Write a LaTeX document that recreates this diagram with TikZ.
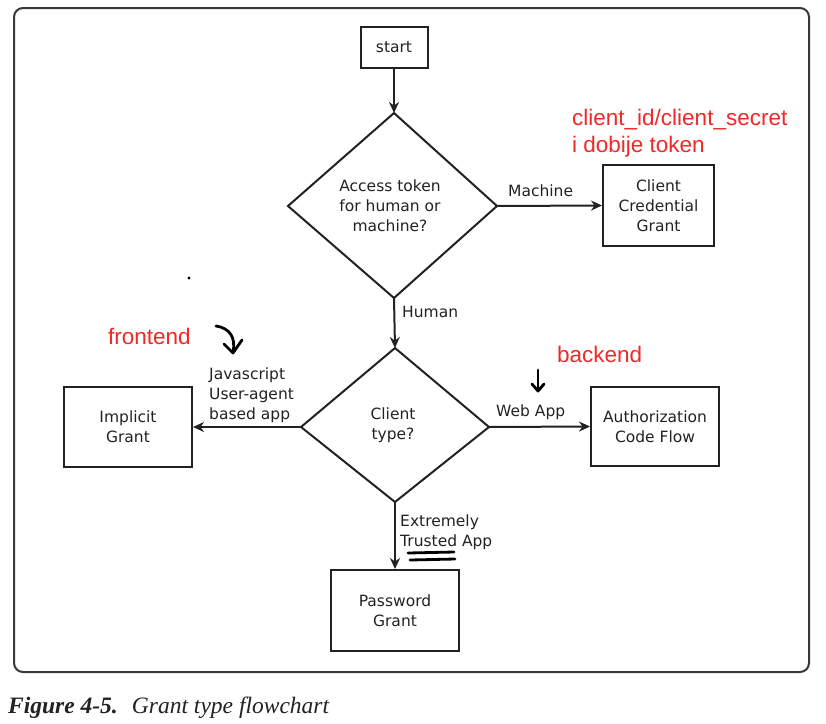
\documentclass[tikz,border=0pt]{standalone}
\usepackage{fontspec}
\setmainfont{DejaVu Sans}
\newfontfamily\redfont{Liberation Sans}
\newfontfamily\capfont{Liberation Serif}
\usetikzlibrary{shapes.geometric,arrows.meta}
\definecolor{ink}{HTML}{222222}
\definecolor{handred}{HTML}{F02828}
\tikzset{
  box/.style={draw=ink,line width=2pt,minimum width=#1,align=center,inner sep=0pt,font=\fontsize{15.5}{20}\selectfont,text=ink},
  conn/.style={draw=ink,line width=2pt,-{Stealth[length=11pt,width=10pt]}},
  lbl/.style={font=\fontsize{15.5}{20}\selectfont,text=ink,align=left,inner sep=0pt},
  note/.style={font=\redfont\fontsize{22.5}{27}\selectfont,text=handred,align=left,inner sep=0pt},
  pen/.style={draw=black,line width=2.8pt,line cap=round,line join=round}
}
\begin{document}
\begin{tikzpicture}[x=1pt,y=-1pt]
\useasboundingbox (0,0) rectangle (826,723);
\fill[white] (0,0) rectangle (826,723);
\draw[draw=ink!90,line width=2pt,rounded corners=9pt] (14,8) rectangle (809,672);

% nodes
\node[box=67pt,minimum height=41pt] (start) at (394,47.5) {start};
\coordinate (d1t) at (394,113);
\coordinate (d1r) at (497,206);
\coordinate (d1bot) at (394,298);
\coordinate (d1l) at (288,206);
\draw[draw=ink,line width=2pt,line join=miter] (d1t) -- (d1r) -- (d1bot) -- (d1l) -- cycle;
\node[lbl,align=center] (d1) at (390,206) {Access token\\for human or\\machine?};

\node[box=111pt,minimum height=81pt] (ccg) at (658.5,205.5) {Client\\Credential\\Grant};

\coordinate (d2t) at (395,348);
\coordinate (d2r) at (489,427);
\coordinate (d2bot) at (395,502);
\coordinate (d2l) at (301,427);
\draw[draw=ink,line width=2pt,line join=miter] (d2t) -- (d2r) -- (d2bot) -- (d2l) -- cycle;
\node[lbl,align=center] (d2) at (393,425) {Client\\type?};

\node[box=128pt,minimum height=80pt] (imp) at (128,427) {Implicit\\Grant};
\node[box=128pt,minimum height=79pt] (acf) at (655,426.5) {Authorization\\Code Flow};
\node[box=128pt,minimum height=81pt] (pwd) at (395,610.5) {Password\\Grant};

% connectors
\draw[conn] (start.south) -- (d1t);
\draw[conn] (d1r) -- (ccg.west);
\draw[conn] (d1bot) -- (d2t);
\draw[conn] (d2l) -- (imp.east);
\draw[conn] (d2r) -- (acf.west);
\draw[conn] (d2bot) -- (pwd.north);

% edge labels
\node[lbl,anchor=west] (lm) at (508,191) {Machine};
\node[lbl,anchor=west] (lh) at (402,312) {Human};
\node[lbl,anchor=west] (lj) at (209,395) {Javascript\\User-agent\\based app};
\node[lbl,anchor=west] (lw) at (496,412) {Web App};
\node[lbl,anchor=west] (le) at (400,532) {Extremely\\Trusted App};

% handwritten notes
\node[note,anchor=west] (n1) at (572,133) {client\_id/client\_secret\\i dobije token};
\node[note,anchor=west] (n2) at (108,336) {frontend};
\node[note,anchor=west] (n3) at (557,354) {backend};

% pen marks
\draw[pen] (216,326) .. controls (230,328) and (236,338) .. (233,352);
\draw[pen] (224,344) -- (233,353) -- (242,340);
\draw[pen] (538,370) -- (538,391);
\draw[pen] (532,384) -- (538,391) -- (544,384);
\draw[pen] (408,553) -- (454,552);
\draw[pen] (410,560) -- (455,559);
\fill[black] (189,278) circle (1.7);

% caption
\node[anchor=west,inner sep=0pt,font=\capfont\fontsize{23.5}{26}\selectfont,text=ink] (cap) at (8,708) {\textbf{\textit{Figure 4-5.}}\hspace{0.6em}\textit{Grant type flowchart}};
\end{tikzpicture}
\end{document}
